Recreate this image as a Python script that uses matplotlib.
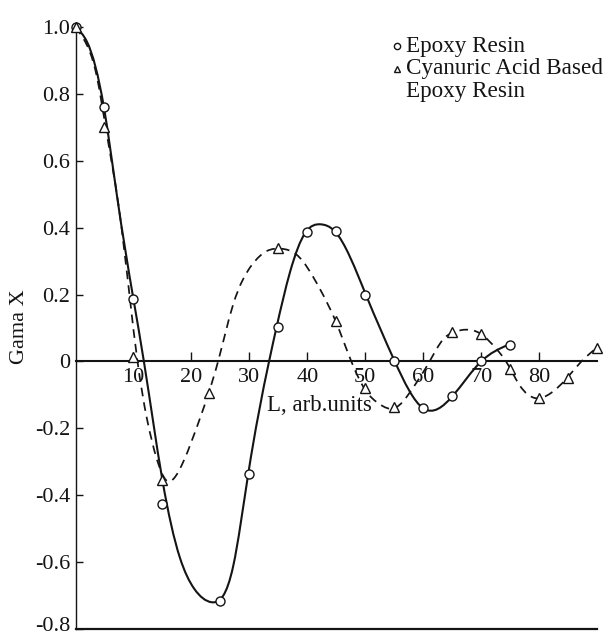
import numpy as np
import matplotlib
matplotlib.use("Agg")
import matplotlib.pyplot as plt
from matplotlib.path import Path
from matplotlib.patches import PathPatch
from matplotlib.transforms import ScaledTranslation

plt.rcParams['font.family'] = ['Liberation Serif', 'DejaVu Serif']

# ---------------- data ----------------
# measured points
epoxy_x = [0, 5, 10, 15, 25, 30, 35, 40, 45, 50, 55, 60, 65, 70, 75]
epoxy_y = [1.0, 0.76, 0.186, -0.425, -0.715, -0.337, 0.103, 0.386, 0.39,
           0.2, 0.0, -0.14, -0.103, 0.0, 0.05]

cyan_x = [0, 5, 10, 15, 23, 35, 45, 50, 55, 65, 70, 75, 80, 85, 90]
cyan_y = [1.0, 0.70, 0.014, -0.355, -0.095, 0.34, 0.12, -0.08, -0.137,
          0.088, 0.083, -0.023, -0.11, -0.05, 0.04]

# hand-drawn fitted curves
epoxy_curve_x = [0, 2.0, 4.9, 7.2, 10.0, 11.8, 15.0, 18.0, 20.5, 23.5, 25.5,
                 27.2, 29.8, 33.4, 34.7, 37.0, 39.7, 42.3, 44.7, 50.1, 55.1,
                 60.0, 65.1, 70.0, 74.7]
epoxy_curve_y = [1.0, 0.955, 0.76, 0.49, 0.186, 0.0, -0.355, -0.586, -0.68,
                 -0.72, -0.70, -0.613, -0.337, 0.0, 0.103, 0.266, 0.386, 0.41,
                 0.39, 0.2, 0.0, -0.14, -0.103, 0.0, 0.05]

cyan_curve_x = [0, 1.3, 3.7, 5.4, 7.4, 9.4, 10.7, 12.3, 14.0, 15.7, 17.2, 18.6,
                21.5, 24.6, 27.2, 30.5, 33.0, 35.5, 38.1, 42.2, 44.9, 47.6,
                50.0, 52.5, 55.0, 58.2, 61.1, 63.4, 65.3, 67.4, 69.9, 72.6,
                74.3, 76.6, 79.5, 82.0, 84.8, 87.3, 89.9]
cyan_curve_y = [1.0, 0.967, 0.85, 0.68, 0.47, 0.186, 0.0, -0.169, -0.29,
                -0.356, -0.345, -0.30, -0.169, 0.0, 0.17, 0.29, 0.33, 0.337,
                0.32, 0.216, 0.12, 0.0, -0.085, -0.128, -0.14, -0.08, 0.0,
                0.065, 0.088, 0.095, 0.083, 0.038, 0.0, -0.07, -0.11, -0.095,
                -0.05, 0.0, 0.04]

x_ticks = [10, 20, 30, 40, 50, 60, 70, 80]
x_tick_labels = ['10', '20', '30', '40', '50', '60', '70', '80']
y_ticks = [1.0, 0.8, 0.6, 0.4, 0.2, 0.0, -0.2, -0.4, -0.6, -0.8]
y_tick_labels = ['1.0', '0.8', '0.6', '0.4', '0.2', '0', '-0.2', '-0.4', '-0.6', '-0.8']

legend_labels = ['Epoxy Resin', 'Cyanuric Acid Based', 'Epoxy Resin']
x_label = 'L, arb.units'
y_label = 'Gama X'

INK = '#141414'


def spline_path(xs, ys):
    """Natural cubic spline through the points, as a Bezier path for matplotlib."""
    x = np.asarray(xs, float)
    y = np.asarray(ys, float)
    n = len(x)
    h = np.diff(x)
    A = np.zeros((n, n))
    b = np.zeros(n)
    A[0, 0] = 1.0
    A[-1, -1] = 1.0
    for i in range(1, n - 1):
        A[i, i - 1] = h[i - 1]
        A[i, i] = 2 * (h[i - 1] + h[i])
        A[i, i + 1] = h[i]
        b[i] = 6 * ((y[i + 1] - y[i]) / h[i] - (y[i] - y[i - 1]) / h[i - 1])
    M = np.linalg.solve(A, b)
    verts = [(x[0], y[0])]
    codes = [Path.MOVETO]
    for i in range(n - 1):
        hi = h[i]
        s = (y[i + 1] - y[i]) / hi
        d0 = s - hi * (2 * M[i] + M[i + 1]) / 6
        d1 = s + hi * (M[i] + 2 * M[i + 1]) / 6
        verts += [(x[i] + hi / 3, y[i] + d0 * hi / 3),
                  (x[i + 1] - hi / 3, y[i + 1] - d1 * hi / 3),
                  (x[i + 1], y[i + 1])]
        codes += [Path.CURVE4] * 3
    return Path(np.array(verts), codes)


fig = plt.figure(figsize=(6.06, 6.39), dpi=100)
fig.patch.set_facecolor('white')
ax = fig.add_axes([0.1246, 10 / 639, 0.8606, 602 / 639])
ax.set_xlim(0, 90)
ax.set_ylim(-0.8, 1.0)

# spines
ax.spines['top'].set_visible(False)
ax.spines['right'].set_visible(False)
ax.spines['bottom'].set_position(('data', 0))
ax.spines['bottom'].set_linewidth(1.5)
ax.spines['bottom'].set_color(INK)
ax.spines['left'].set_linewidth(1.0)
ax.spines['left'].set_color(INK)
ax.axhline(-0.8, color=INK, lw=1.6, clip_on=False, zorder=2)

# curves
ax.add_patch(PathPatch(spline_path(epoxy_curve_x, epoxy_curve_y), fill=False,
                       lw=1.5, edgecolor=INK, zorder=3, clip_on=False))
ax.add_patch(PathPatch(spline_path(cyan_curve_x, cyan_curve_y), fill=False,
                       lw=1.25, edgecolor=INK, linestyle=(0, (5, 3.5)),
                       zorder=3, clip_on=False))

# markers
ax.plot(epoxy_x, epoxy_y, linestyle='none', marker='o', ms=6.5, mfc='white',
        mec=INK, mew=1.0, zorder=5, clip_on=False)
ax.plot(cyan_x, cyan_y, linestyle='none', marker='^', ms=7.5, mfc='white',
        mec=INK, mew=1.0, zorder=5, clip_on=False)

# ticks
ax.set_xticks(x_ticks)
ax.set_xticklabels(x_tick_labels)
ax.tick_params(axis='x', direction='in', length=6.5, width=1.0, pad=4.5,
               labelsize=16, colors=INK)
ax.set_yticks(y_ticks)
ax.set_yticklabels(y_tick_labels)
ax.tick_params(axis='y', direction='in', length=5, width=1.0, pad=4,
               labelsize=16, colors=INK)

# keep the lowest tick label inside the figure edge
low_label = ax.yaxis.get_major_ticks()[-1].label1
low_label.set_transform(low_label.get_transform()
                        + ScaledTranslation(0, 3.5 / 72, fig.dpi_scale_trans))

# axis labels
ax.text(-0.108, 0.503, y_label, rotation=90, transform=ax.transAxes,
        ha='center', va='center', fontsize=16, color=INK)
ax.text(33.0, -0.148, x_label, ha='left', va='baseline', fontsize=16.5, color=INK)

# legend (manual, to match layout)
ax.plot([0.617], [0.9686], transform=ax.transAxes, marker='o', ms=4.5,
        mfc='white', mec=INK, mew=1.0, linestyle='none', clip_on=False)
ax.plot([0.617], [0.931], transform=ax.transAxes, marker='^', ms=5,
        mfc='white', mec=INK, mew=1.0, linestyle='none', clip_on=False)
ax.text(0.633, 0.9587, legend_labels[0], transform=ax.transAxes,
        ha='left', va='baseline', fontsize=16.7, color=INK)
ax.text(0.633, 0.9215, legend_labels[1], transform=ax.transAxes,
        ha='left', va='baseline', fontsize=16.7, color=INK)
ax.text(0.633, 0.8845, legend_labels[2], transform=ax.transAxes,
        ha='left', va='baseline', fontsize=16.7, color=INK)

fig.savefig('out.png', dpi=100, facecolor='white')
